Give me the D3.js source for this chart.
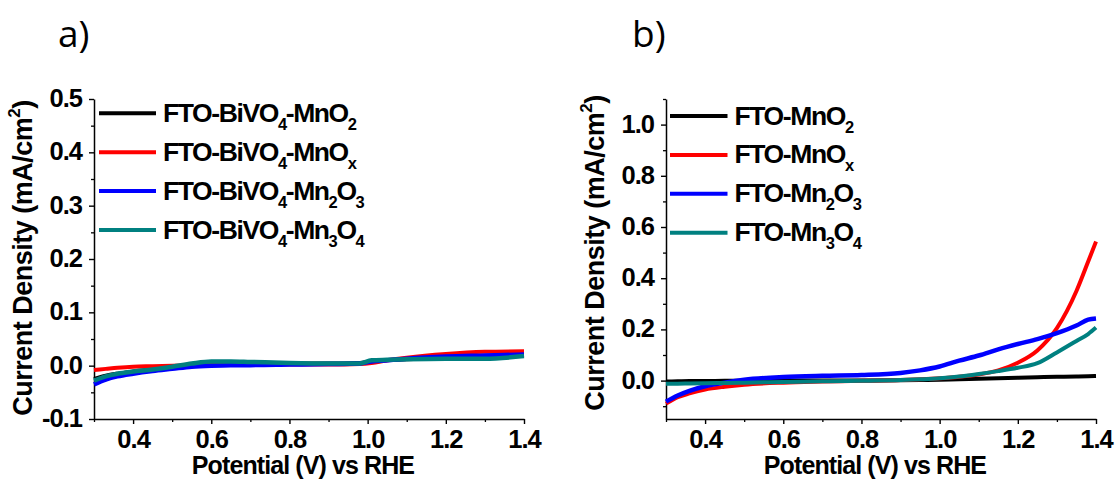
<!DOCTYPE html>
<html>
<head>
<meta charset="utf-8">
<script src="https://cdn.jsdelivr.net/npm/d3@7"></script>
<style>
  html, body { margin: 0; padding: 0; background: #fff; }
  svg { display: block; }
  text { font-family: "Liberation Sans", Arial, sans-serif; font-weight: bold; fill: #000; }
</style>
</head>
<body>
<svg id="chart" width="1117" height="481"></svg>
<script>
// ---------- DATA ----------
const colors = ["#000000", "#ff0000", "#0000ff", "#008080"];

// Panel a
const xA = [0.30,0.33,0.36,0.40,0.45,0.50,0.55,0.60,0.65,0.70,0.80,0.90,0.98,1.01,1.05,1.10,1.20,1.30,1.40];
const aMnO2  = [-0.025,-0.019,-0.015,-0.011,-0.007,-0.003,0.000,0.003,0.004,0.004,0.004,0.004,0.005,0.008,0.010,0.012,0.015,0.017,0.020];
const aMnOx  = [-0.008,-0.006,-0.004,-0.002,-0.001,0.000,0.001,0.002,0.002,0.002,0.002,0.002,0.003,0.005,0.010,0.015,0.022,0.026,0.027];
const aMn2O3 = [-0.035,-0.026,-0.020,-0.015,-0.010,-0.006,-0.002,0.000,0.001,0.001,0.002,0.003,0.004,0.008,0.010,0.013,0.017,0.019,0.021];
const aMn3O4 = [-0.028,-0.020,-0.015,-0.011,-0.007,-0.002,0.004,0.008,0.008,0.007,0.005,0.004,0.004,0.010,0.011,0.012,0.013,0.013,0.018];
const legendA = [
  [["FTO-BiVO",0],["4",1],["-MnO",0],["2",1]],
  [["FTO-BiVO",0],["4",1],["-MnO",0],["x",1]],
  [["FTO-BiVO",0],["4",1],["-Mn",0],["2",1],["O",0],["3",1]],
  [["FTO-BiVO",0],["4",1],["-Mn",0],["3",1],["O",0],["4",1]]
];
const yTicksA = [-0.1,0.0,0.1,0.2,0.3,0.4,0.5];
const yMinorA = [-0.05,0.05,0.15,0.25,0.35,0.45];

// Panel b
const xB = [0.30,0.33,0.36,0.40,0.45,0.50,0.60,0.70,0.80,0.90,0.95,1.00,1.05,1.10,1.15,1.20,1.25,1.30,1.35,1.38,1.40];
const bMnO2  = [-0.004,-0.003,-0.002,-0.002,-0.001,-0.001,0.000,0.000,0.000,0.001,0.002,0.003,0.005,0.007,0.009,0.011,0.013,0.015,0.016,0.017,0.018];
const bMnOx  = [-0.090,-0.065,-0.050,-0.035,-0.024,-0.016,-0.008,-0.004,-0.001,0.002,0.005,0.009,0.015,0.024,0.040,0.070,0.118,0.205,0.350,0.465,0.543];
const bMn2O3 = [-0.082,-0.058,-0.040,-0.022,-0.008,0.003,0.014,0.019,0.022,0.030,0.040,0.055,0.078,0.098,0.122,0.143,0.162,0.185,0.215,0.238,0.243];
const bMn3O4 = [-0.012,-0.012,-0.011,-0.010,-0.009,-0.008,-0.005,-0.003,-0.001,0.002,0.005,0.009,0.016,0.026,0.037,0.050,0.068,0.110,0.155,0.182,0.207];
const legendB = [
  [["FTO-MnO",0],["2",1]],
  [["FTO-MnO",0],["x",1]],
  [["FTO-Mn",0],["2",1],["O",0],["3",1]],
  [["FTO-Mn",0],["3",1],["O",0],["4",1]]
];
const yTicksB = [0.0,0.2,0.4,0.6,0.8,1.0];
const yMinorB = [-0.1,0.1,0.3,0.5,0.7,0.9,1.1];

const xTicks = [0.4,0.6,0.8,1.0,1.2,1.4];
const xMinor = [0.3,0.5,0.7,0.9,1.1,1.3];
const xTitle = "Potential (V) vs RHE";

// ---------- DRAW ----------
const svg = d3.select("#chart");

function panel(cfg) {
  const g = svg.append("g");
  const x = d3.scaleLinear().domain([0.3, 1.4]).range([cfg.left, cfg.right]);
  const y = d3.scaleLinear().domain(cfg.yDomain).range([419, 99]);
  const fmt = d => d.toFixed(1);

  // minor ticks
  g.append("g").attr("transform", `translate(0,419)`)
    .call(d3.axisBottom(x).tickValues(xMinor).tickSize(3).tickSizeOuter(0).tickFormat(""))
    .call(s => s.select(".domain").remove())
    .call(s => s.selectAll("line").attr("stroke-width", 1.3));
  g.append("g").attr("transform", `translate(${cfg.left},0)`)
    .call(d3.axisLeft(y).tickValues(cfg.yMinor).tickSize(3).tickSizeOuter(0).tickFormat(""))
    .call(s => s.select(".domain").remove())
    .call(s => s.selectAll("line").attr("stroke-width", 1.3));

  // major x axis
  const gx = g.append("g").attr("transform", `translate(0,419)`)
    .call(d3.axisBottom(x).tickValues(xTicks).tickSize(5).tickSizeOuter(0).tickPadding(6).tickFormat(fmt));
  gx.select(".domain").attr("stroke-width", 1.5);
  gx.selectAll("line").attr("stroke-width", 1.4);
  gx.selectAll("text").attr("font-size", 25.5).attr("letter-spacing", "-1px")
    .attr("dy", null).attr("y", 28.5).style("font-family", "Liberation Sans, Arial").style("font-weight", "bold");

  // major y axis
  const gy = g.append("g").attr("transform", `translate(${cfg.left},0)`)
    .call(d3.axisLeft(y).tickValues(cfg.yTicks).tickSize(5).tickSizeOuter(0).tickPadding(7).tickFormat(fmt));
  gy.select(".domain").attr("stroke-width", 1.5);
  gy.selectAll("line").attr("stroke-width", 1.4);
  gy.selectAll("text").attr("font-size", 25.5).attr("letter-spacing", "-1px")
    .attr("dy", "7.5px").style("font-family", "Liberation Sans, Arial").style("font-weight", "bold");

  // curves
  const line = d3.line().curve(d3.curveMonotoneX).x(d => x(d[0])).y(d => y(d[1]));
  cfg.series.forEach((vals, i) => {
    g.append("path")
      .datum(cfg.xs.map((xv, j) => [xv, vals[j]]))
      .attr("fill", "none")
      .attr("stroke", colors[i])
      .attr("stroke-width", cfg.widths[i])
      .attr("stroke-linejoin", "round")
      .attr("d", line);
  });

  // legend
  cfg.legend.forEach((parts, i) => {
    const ly = cfg.legY + i * 38.9;
    g.append("line")
      .attr("x1", cfg.legX1).attr("x2", cfg.legX2)
      .attr("y1", ly).attr("y2", ly)
      .attr("stroke", colors[i]).attr("stroke-width", 4);
    const t = g.append("text")
      .attr("x", cfg.legX2 + 7).attr("y", ly + 8.5)
      .attr("font-size", 26.5).attr("letter-spacing", "-1.4px");
    let sub = false;
    parts.forEach(([s, isSub]) => {
      const ts = t.append("tspan").text(s);
      if (isSub && !sub) { ts.attr("dy", 8).attr("font-size", 16.5); sub = true; }
      else if (isSub && sub) { ts.attr("font-size", 16.5); }
      else if (!isSub && sub) { ts.attr("dy", -8); sub = false; }
    });
  });

  // x title
  g.append("text")
    .attr("x", (cfg.left + cfg.right) / 2 - 6).attr("y", 474)
    .attr("text-anchor", "middle")
    .attr("font-size", 25).attr("letter-spacing", "-0.9px")
    .text(xTitle);

  // y title
  const yt = g.append("text")
    .attr("transform", `translate(${cfg.left - 62},${cfg.yTitleC}) rotate(-90)`)
    .attr("text-anchor", "middle")
    .attr("font-size", 27).attr("letter-spacing", "-0.5px");
  yt.append("tspan").text("Current Density (mA/cm");
  yt.append("tspan").attr("dy", -12).attr("font-size", 17).text("2");
  yt.append("tspan").attr("dy", 12).text(")");

  // panel label
  svg.append("text")
    .attr("x", cfg.labelX).attr("y", 47)
    .style("font-family", "Open Sans, sans-serif").style("font-weight", "normal")
    .attr("font-size", 37)
    .text(cfg.label);
}

panel({
  left: 94, right: 524, yDomain: [-0.1, 0.5],
  yTicks: yTicksA, yMinor: yMinorA,
  xs: xA, series: [aMnO2, aMnOx, aMn2O3, aMn3O4], widths: [4, 4, 4.5, 4.5],
  legend: legendA, legY: 113.3, legX1: 99, legX2: 156,
  yTitleC: 258, label: "a)", labelX: 58
});
panel({
  left: 666, right: 1096, yDomain: [-0.15, 1.1],
  yTicks: yTicksB, yMinor: yMinorB,
  xs: xB, series: [bMnO2, bMnOx, bMn2O3, bMn3O4], widths: [4, 4, 4.5, 4],
  legend: legendB, legY: 116, legX1: 670, legX2: 727.5,
  yTitleC: 253, label: "b)", labelX: 632
});
</script>
</body>
</html>
